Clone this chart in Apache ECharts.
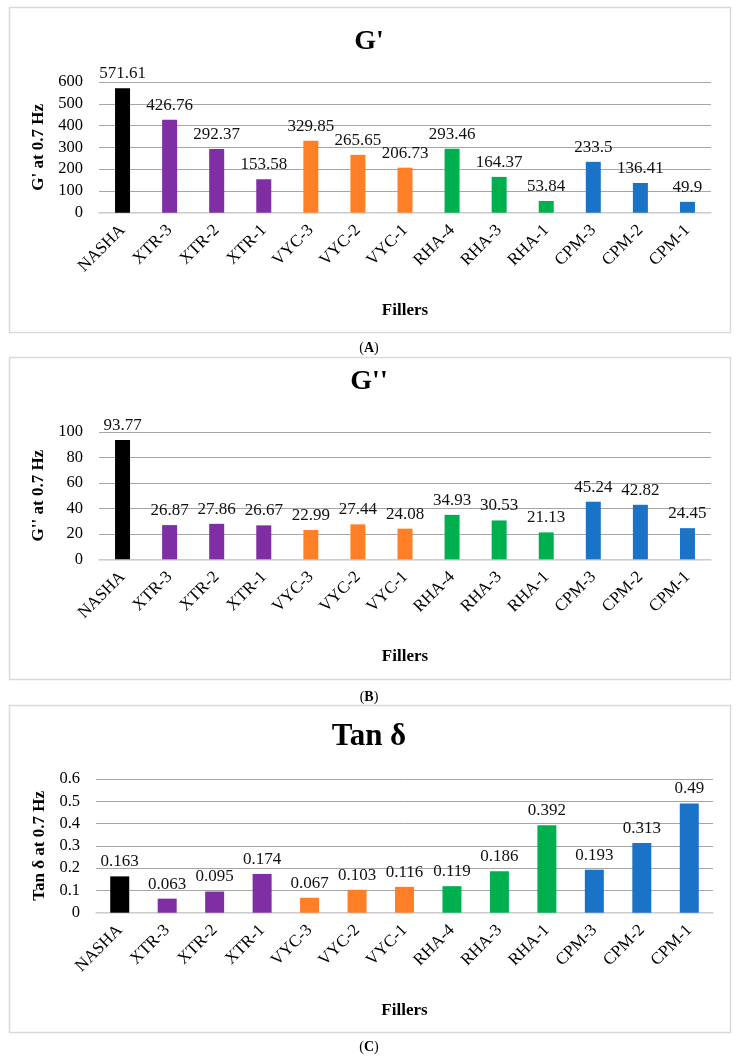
<!DOCTYPE html>
<html><head><meta charset="utf-8">
<script src="https://cdn.jsdelivr.net/npm/echarts@6/dist/echarts.min.js"></script>
<style>html,body{margin:0;padding:0;background:#fff}#c{width:742px;height:1057px}</style>
</head><body><div id="c"></div>
<script>
const categories = ["NASHA","XTR-3","XTR-2","XTR-1","VYC-3","VYC-2","VYC-1","RHA-4","RHA-3","RHA-1","CPM-3","CPM-2","CPM-1"];
const gPrime = [571.61,426.76,292.37,153.58,329.85,265.65,206.73,293.46,164.37,53.84,233.5,136.41,49.9];
const gDouble = [93.77,26.87,27.86,26.67,22.99,27.44,24.08,34.93,30.53,21.13,45.24,42.82,24.45];
const tanDelta = [0.163,0.063,0.095,0.174,0.067,0.103,0.116,0.119,0.186,0.392,0.193,0.313,0.49];
const barColors = ["#000000","#7F2FA3","#7F2FA3","#7F2FA3","#FF7F27","#FF7F27","#FF7F27","#00B04F","#00B04F","#00B04F","#1B73C8","#1B73C8","#1B73C8"];
const titles = ["G'","G''","Tan δ"];
const yNames = ["G' at 0.7 Hz","G'' at 0.7 Hz","Tan δ at 0.7 Hz"];
const xName = "Fillers";
const captions = ["A","B","C"];
const yMax = [600,100,0.6];
const yInterval = [100,20,0.1];

const serif = "'Liberation Serif', 'DejaVu Serif', serif";
const grids = [
  {left:99, right:31, top:82, bottom:1057-212.7},
  {left:99, right:31, top:432, bottom:1057-559.3},
  {left:96, right:29, top:779, bottom:1057-912.7}
];
const boxes = [[9,7,721,325],[9,357,721,322],[9,705,721,327]];
const titleY = [42,382,737];
const titleSize = [28,28,31];
const capY = [348,697,1047];
const barW = [15,15,19];
const datasets = [gPrime,gDouble,tanDelta];

const chart = echarts.init(document.getElementById('c'));
const option = {
  backgroundColor:'#fff',
  animation:false,
  grid: grids,
  xAxis: grids.map((g,i)=>({
    type:'category', gridIndex:i, data:categories,
    axisTick:{show:false},
    axisLine:{lineStyle:{color:'#d9d9d9',width:1.5}},
    axisLabel:{rotate:45, interval:0, fontFamily:serif, fontSize:17, color:'#000', margin:15},
    name:xName, nameLocation:'middle', nameGap:89,
    nameTextStyle:{fontFamily:serif, fontSize:17, fontWeight:'bold', color:'#000'}
  })),
  yAxis: grids.map((g,i)=>({
    type:'value', gridIndex:i, min:0, max:yMax[i], interval:yInterval[i],
    axisLine:{show:false}, axisTick:{show:false},
    splitLine:{lineStyle:{color:'#a6a6a6',width:1}},
    axisLabel:{fontFamily:serif, fontSize:16.5, color:'#000', margin:16},
    name:yNames[i], nameLocation:'middle', nameRotate:90, nameGap:i===2?44:46,
    nameTextStyle:{fontFamily:serif, fontSize:17, fontWeight:'bold', color:'#000'}
  })),
  series: datasets.map((d,i)=>({
    type:'bar', xAxisIndex:i, yAxisIndex:i, barWidth:barW[i],
    data: d.map((v,j)=>({value:v, itemStyle:{color:barColors[j]}})),
    label:{show:true, position:'top', distance:6, fontFamily:serif, fontSize:17, color:'#111'}
  })),
  graphic: [
    ...boxes.map(b=>({type:'rect', shape:{x:b[0]+0.5,y:b[1]+0.5,width:b[2],height:b[3]}, style:{fill:null, stroke:'#d9d9d9', lineWidth:1.5}, z:-1})),
    ...titles.map((t,i)=>({type:'text', x:369, y:titleY[i], style:{text:t, fontFamily:serif, fontSize:titleSize[i], fontWeight:'bold', fill:'#000', textAlign:'center', textVerticalAlign:'middle'}})),
    ...captions.map((c,i)=>({type:'text', x:369, y:capY[i], style:{text:'({b|'+c+'})', rich:{b:{fontWeight:'bold', fontFamily:serif, fontSize:14, fill:'#000'}}, fontFamily:serif, fontSize:14, fill:'#000', textAlign:'center', textVerticalAlign:'middle'}}))
  ]
};
chart.setOption(option);
</script></body></html>
